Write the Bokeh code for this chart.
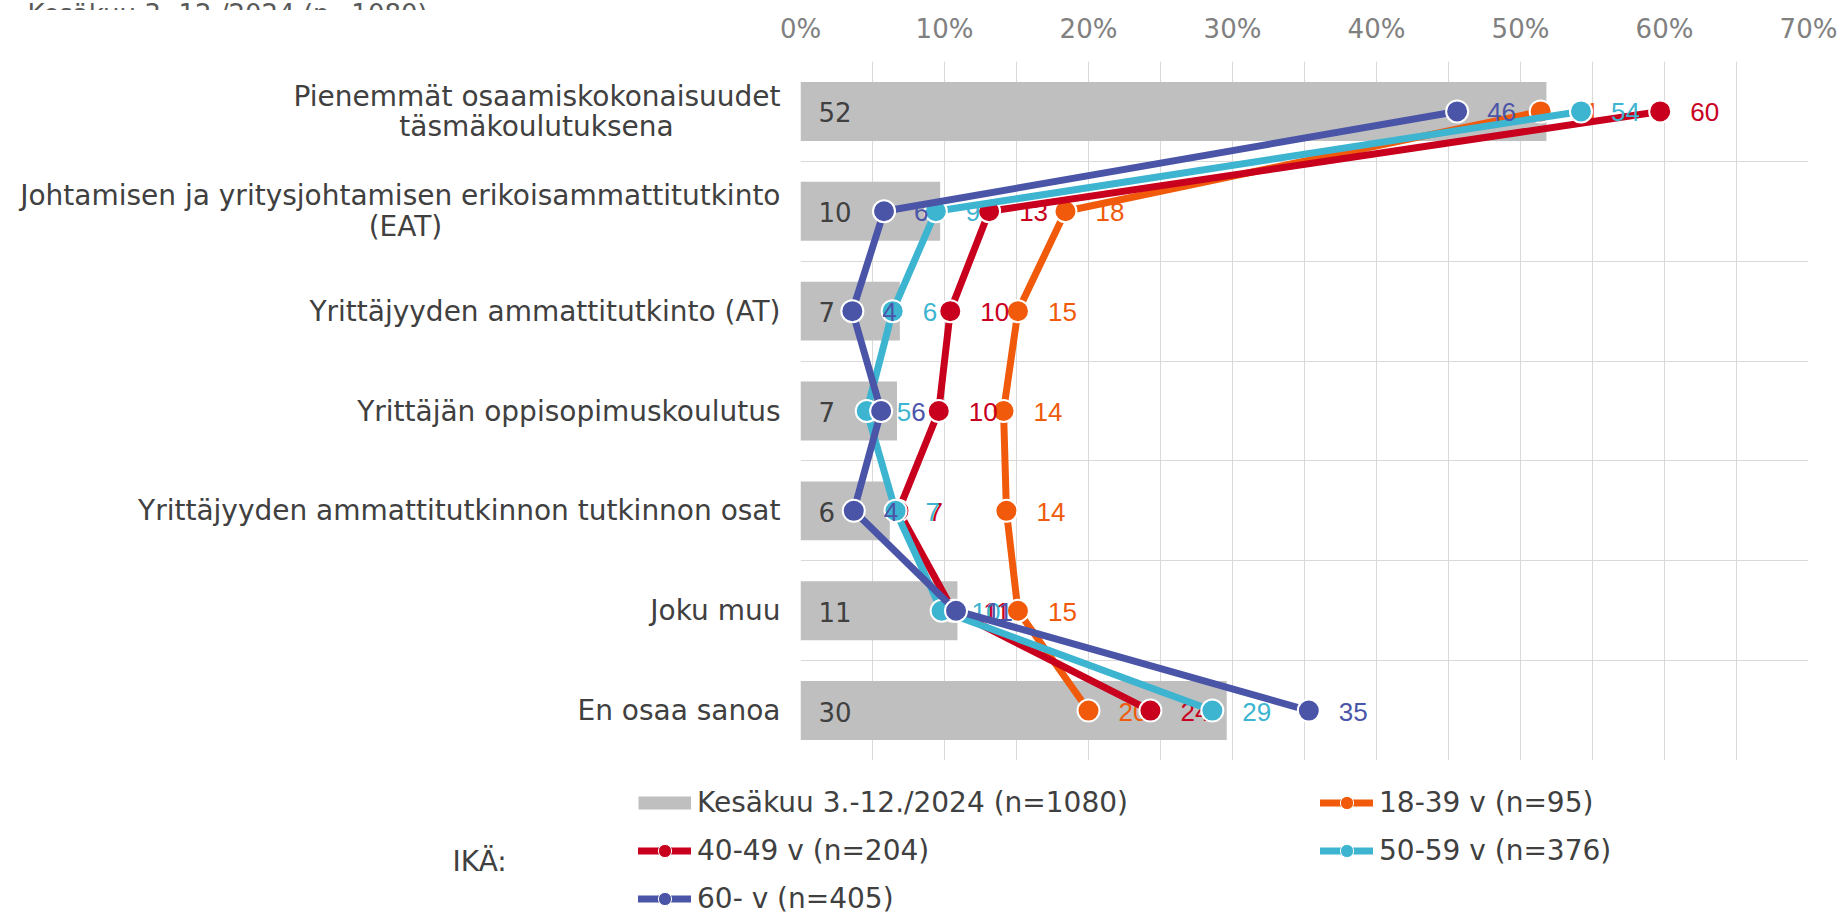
import numpy as np
from bokeh.plotting import figure
from bokeh.models import Range1d, FixedTicker, Legend, LegendItem, Label
from bokeh.core.properties import value
from bokeh.embed import file_html
from bokeh.resources import INLINE

# ---------------- data ----------------
categories = [
    "Pienemmät osaamiskokonaisuudet\ntäsmäkoulutuksena",
    "Johtamisen ja yritysjohtamisen erikoisammattitutkinto\n(EAT)",
    "Yrittäjyyden ammattitutkinto (AT)",
    "Yrittäjän oppisopimuskoulutus",
    "Yrittäjyyden ammattitutkinnon tutkinnon osat",
    "Joku muu",
    "En osaa sanoa",
]
total_name = "Kesäkuu 3.-12./2024 (n=1080)"
total = [51.8, 9.7, 6.9, 6.7, 6.2, 10.9, 29.6]

series_names = ["18-39 v (n=95)", "40-49 v (n=204)", "50-59 v (n=376)", "60- v (n=405)"]
age_18_39 = [51.4, 18.4, 15.1, 14.1, 14.3, 15.1, 20.0]
age_40_49 = [59.7, 13.1, 10.4, 9.6, 6.8, 10.6, 24.3]
age_50_59 = [54.2, 9.4, 6.4, 4.6, 6.6, 9.8, 28.6]
age_60 = [45.6, 5.8, 3.6, 5.6, 3.7, 10.8, 35.3]
series_values = [age_18_39, age_40_49, age_50_59, age_60]
series_colors = ["#F05A0A", "#C8001E", "#3DB4D0", "#4A55A8"]

x_ticks = [0, 10, 20, 30, 40, 50, 60, 70]
x_tick_labels = ["0%", "10%", "20%", "30%", "40%", "50%", "60%", "70%"]
group_title = "IKÄ:"

TEXT_FONT = "DejaVu Sans"
W = 1840
ypos = np.arange(len(categories)) + 0.5

# second lines of two-line category labels are centred under the first line
# (right-aligned axis labels, padded with no-break spaces)
center_pad = {0: 12, 1: 38}
def axis_label(i, s):
    if "\n" in s and i in center_pad:
        a, b = s.split("\n")
        return a + "\n" + b + "\u00a0" * center_pad[i]
    return s

def bare_figure(height, xr, yr):
    f = figure(width=W, height=height, output_backend="svg", toolbar_location=None,
               x_axis_location=None, y_axis_location=None, x_range=xr, y_range=yr,
               min_border_left=0, min_border_right=0, min_border_top=0, min_border_bottom=0)
    f.outline_line_color = None
    f.grid.visible = False
    return f

# ---------------- strip with the cut-off heading ----------------
strip = bare_figure(10, Range1d(0, 1), Range1d(0, 1))
strip.add_layout(Label(x=27, y=-1, x_units="screen", y_units="screen", text=total_name,
                       text_font=TEXT_FONT, text_font_size="26px", text_color="#595959",
                       text_baseline="alphabetic", text_align="left"))

# ---------------- main chart ----------------
p = figure(width=W, height=762, x_range=Range1d(0, 70), y_range=Range1d(7, 0),
           x_axis_location="above", output_backend="svg", toolbar_location=None,
           min_border_left=800, min_border_right=W - 1808, min_border_top=50, min_border_bottom=12)
p.outline_line_color = None

xa = p.xaxis[0]
xa.ticker = FixedTicker(ticks=x_ticks)
xa.major_label_overrides = {float(t): s for t, s in zip(x_ticks, x_tick_labels)}
xa.axis_line_color = None
xa.major_tick_line_color = None
xa.minor_tick_line_color = None
xa.major_tick_out = 0
xa.minor_tick_out = 0
xa.axis_label_standoff = 0
xa.major_label_text_font = TEXT_FONT
xa.major_label_text_font_size = "26px"
xa.major_label_text_color = "#808080"
xa.major_label_standoff = 18

ya = p.yaxis[0]
ya.ticker = FixedTicker(ticks=list(ypos))
ya.major_label_overrides = {float(y): axis_label(i, c) for i, (y, c) in enumerate(zip(ypos, categories))}
ya.axis_line_color = None
ya.major_tick_line_color = None
ya.minor_tick_line_color = None
ya.major_tick_out = 0
ya.minor_tick_out = 0
ya.axis_label_standoff = 0
ya.major_label_text_font = TEXT_FONT
ya.major_label_text_font_size = "28px"
ya.major_label_text_color = "#404040"
ya.major_label_text_line_height = 0.93
ya.major_label_standoff = 20

p.xgrid.ticker = FixedTicker(ticks=list(range(0, 75, 5)))
p.ygrid.ticker = FixedTicker(ticks=list(range(len(categories) + 1)))
for g in (p.xgrid[0], p.ygrid[0]):
    g.grid_line_color = "#D9D9D9"
    g.grid_line_width = 1

p.hbar(y=ypos, left=np.zeros(len(total)), right=total, height=0.59,
       fill_color="#BFBFBF", line_color=None)
p.text(x=np.zeros(len(total)), y=ypos, text=[str(int(v + 0.5)) for v in total],
       x_offset=18, y_offset=1, text_align="left", text_baseline="middle",
       text_font=value(TEXT_FONT), text_font_size="26px", text_color="#404040")

for vals, col in zip(series_values, series_colors):
    p.line(x=vals, y=ypos, line_color=col, line_width=7, line_join="round", line_cap="round")
    p.scatter(x=vals, y=ypos, size=22, marker="circle", fill_color=col,
              line_color="white", line_width=2)
    p.text(x=vals, y=ypos, text=[str(int(v + 0.5)) for v in vals],
           x_offset=30, y_offset=1, text_align="left", text_baseline="middle",
           text_font=value("Liberation Sans"), text_font_size="26px", text_color=col)

# ---------------- legend area (same series, plotted outside its visible range) ----------------
LH = 143
lg_fig = bare_figure(LH, Range1d(0, 70), Range1d(100, 101))

swatch = lg_fig.line(x=total, y=ypos, line_color="#BFBFBF", line_width=13, line_cap="butt")
items = []
for vals, col in zip(series_values, series_colors):
    lr = lg_fig.line(x=vals, y=ypos, line_color=col, line_width=7, line_cap="round")
    sr = lg_fig.scatter(x=vals, y=ypos, marker="circle", fill_color=col,
                        line_color="white", line_width=1)
    items.append([lr, sr])

def make_legend(entries, loc):
    lg = Legend(items=entries, location=loc, orientation="vertical",
                glyph_width=53, glyph_height=33, label_height=33, label_standoff=6,
                spacing=15, padding=0, margin=0,
                label_text_font=TEXT_FONT, label_text_font_size="28px",
                label_text_color="#404040", label_text_baseline="middle",
                border_line_color=None, background_fill_alpha=0)
    lg_fig.add_layout(lg, "center")

make_legend([
    LegendItem(label=total_name, renderers=[swatch]),
    LegendItem(label=series_names[1], renderers=items[1]),
    LegendItem(label=series_names[3], renderers=items[3]),
], (638, LH - 13.5 - 129))
make_legend([
    LegendItem(label=series_names[0], renderers=items[0]),
    LegendItem(label=series_names[2], renderers=items[2]),
], (1320, LH - 13.5 - 81))

lg_fig.add_layout(Label(x=452, y=LH - 89, x_units="screen", y_units="screen", text=group_title,
                        text_font=TEXT_FONT, text_font_size="28px", text_color="#404040",
                        text_baseline="middle", text_align="left"))

# three stacked roots (no frame alignment between them)
open("out.html", "w").write(file_html([strip, p, lg_fig], INLINE))
